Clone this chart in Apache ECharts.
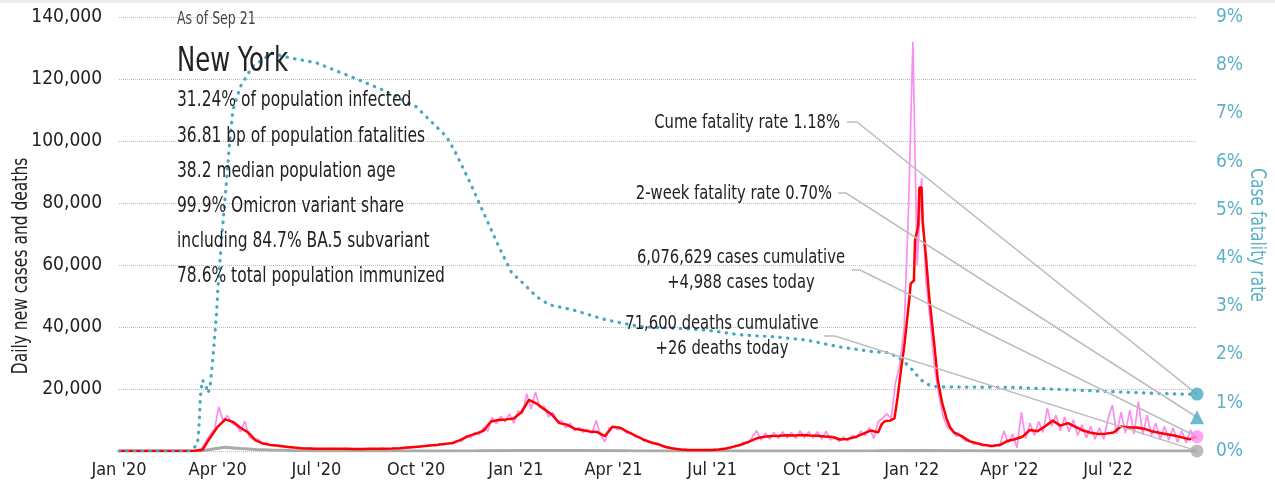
<!DOCTYPE html>
<html>
<head>
<meta charset="utf-8">
<script src="https://cdn.jsdelivr.net/npm/echarts@6/dist/echarts.min.js"></script>
<style>
  html, body { margin: 0; padding: 0; background: #fff; }
  #chart { width: 1275px; height: 491px; }
</style>
</head>
<body>
<div id="chart"></div>
<script>
// all day offsets count from 2020-01-01, case/death values are in thousands
const dailyStep = 4;
const dailyCases = [
  0, 0, 0, 0, 0, 0, 0, 0, 0, 0, 0, 0, 0, 0, 0, 0, 0, 0, 0.1, 0.8,
  3.0, 5.2, 7.0, 14.2, 9.8, 11.4, 9.0, 8.4, 6.2, 9.6, 4.6, 3.6, 3.9, 2.2, 2.6, 1.8, 1.9, 1.5, 1.6, 1.2,
  1.3, 0.9, 1.0, 0.8, 0.9, 0.6, 0.8, 0.7, 0.6, 0.8, 0.7, 0.6, 0.8, 0.7, 0.5, 0.7, 0.6, 0.7, 0.8, 0.6,
  0.7, 0.9, 0.6, 0.8, 0.9, 0.8, 1.2, 1.0, 1.4, 1.3, 1.7, 1.5, 2.0, 1.7, 2.3, 2.0, 2.6, 2.4, 3.4, 3.0,
  4.9, 4.2, 6.0, 5.2, 7.5, 6.4, 10.8, 8.8, 11.2, 9.4, 12.0, 9.0, 13.0, 12.0, 18.5, 13.5, 19.0, 14.0, 14.5, 11.0,
  12.5, 9.5, 9.8, 7.5, 9.0, 6.5, 7.6, 6.0, 7.0, 5.6, 9.8, 5.2, 3.0, 7.5, 8.0, 6.8, 7.6, 5.8, 6.0, 4.5,
  4.5, 3.2, 3.4, 2.4, 2.5, 1.7, 1.4, 0.9, 0.9, 0.5, 0.5, 0.35, 0.35, 0.25, 0.3, 0.25, 0.35, 0.4, 0.5, 0.6,
  0.9, 1.0, 1.8, 1.6, 2.9, 2.5, 4.5, 6.5, 3.5, 5.8, 3.8, 6.0, 4.0, 6.2, 4.2, 6.0, 4.0, 6.5, 4.3, 6.2,
  4.2, 6.2, 3.8, 6.4, 3.5, 4.4, 3.0, 4.6, 3.2, 5.0, 4.2, 6.4, 5.0, 7.6, 4.0, 9.5, 10.5, 12.0, 10.5, 22.0,
  28, 40, 78, 132, 60, 88, 55, 42, 27, 18, 11, 7.5, 6.5, 4.8, 5.0, 3.2, 3.4, 2.3, 2.6, 1.6,
  2.1, 1.4, 2.0, 1.6, 6.5, 2.5, 5.5, 1.0, 12.5, 4.0, 9.0, 5.0, 9.5, 6.0, 13.8, 8.0, 11.5, 6.5, 11.0, 6.2,
  10.0, 5.0, 8.5, 4.2, 8.0, 3.8, 7.5, 3.8, 10.5, 14.8, 5.5, 12.5, 5.8, 13.2, 5.5, 15.9, 5.2, 11.6, 4.8, 9.0,
  3.8, 8.0, 3.5, 7.5, 2.8, 6.5, 2.6, 6.8, 4.2
];

const avgDays = [
  0, 7, 14, 21, 28, 35, 42, 49, 56, 63, 70, 77, 84, 91, 98, 105, 112, 119, 126, 133,
  140, 147, 154, 161, 168, 175, 182, 189, 196, 203, 210, 217, 224, 231, 238, 245, 252, 259, 266, 273,
  280, 287, 294, 301, 308, 315, 322, 329, 336, 343, 350, 357, 364, 371, 378, 385, 392, 399, 406, 413,
  420, 427, 434, 441, 448, 455, 462, 469, 476, 483, 490, 497, 504, 511, 518, 525, 532, 539, 546, 553,
  560, 567, 574, 581, 588, 595, 602, 609, 616, 623, 630, 637, 644, 651, 658, 665, 672, 679, 686, 693,
  700, 703, 706, 711, 715, 718, 721, 724, 729, 730, 733, 734, 736, 737, 738, 740, 741, 744, 747, 752,
  755, 759, 763, 766, 770, 777, 784, 791, 798, 805, 812, 819, 826, 833, 840, 847, 854, 861, 868, 875,
  882, 889, 896, 903, 910, 917, 924, 931, 938, 945, 952, 959, 966, 973, 980, 987, 994
];
const avgCases = [
  0, 0, 0, 0, 0, 0, 0, 0, 0, 0, 0.05, 0.4, 4.3, 7.8, 10.2, 9.4, 7.5, 6.0, 3.4, 2.4,
  1.9, 1.7, 1.4, 1.1, 0.9, 0.8, 0.7, 0.7, 0.7, 0.7, 0.7, 0.65, 0.65, 0.7, 0.7, 0.75, 0.8, 0.9, 1.1, 1.3,
  1.5, 1.8, 2.0, 2.3, 2.6, 3.6, 4.8, 5.6, 6.5, 9.5, 10.0, 10.2, 10.5, 12.5, 16.5, 15.3, 13.5, 11.8, 9.0, 8.5,
  7.2, 6.8, 6.3, 6.1, 4.8, 7.8, 7.5, 6.2, 5.0, 3.8, 2.8, 2.2, 1.3, 0.8, 0.5, 0.35, 0.3, 0.3, 0.3, 0.5,
  0.8, 1.4, 2.1, 3.0, 4.1, 4.6, 4.8, 4.9, 5.1, 5.0, 5.2, 5.0, 4.9, 4.7, 4.5, 3.7, 3.9, 4.5, 5.5, 6.6,
  6.0, 8.5, 9.6, 9.8, 10.5, 17.5, 26, 33.6, 50, 54, 55, 68, 71, 73, 85, 85, 74, 63, 50, 33.6,
  22.9, 15.5, 10.5, 7.8, 6.0, 4.8, 3.2, 2.5, 1.9, 1.6, 1.9, 3.2, 3.8, 4.6, 6.8, 6.4, 8.0, 9.8, 8.2, 9.0,
  7.8, 6.6, 5.9, 5.5, 5.6, 6.0, 7.9, 7.6, 7.6, 7.2, 6.4, 5.9, 5.4, 5.0, 4.4, 3.8, 4.6
];

const deathDays = [0, 75, 84, 91, 98, 105, 112, 126, 140, 160, 190, 280, 330, 380, 420, 470, 520, 580, 700, 740, 770, 820, 994];
const deathVals = [0, 0, 0.5, 0.9, 1.2, 1.0, 0.8, 0.5, 0.3, 0.15, 0.05, 0.03, 0.08, 0.2, 0.15, 0.08, 0.03, 0.04, 0.05, 0.2, 0.12, 0.03, 0.03];

// cumulative case fatality rate, %
const cfrDays = [
  0, 65, 72, 73, 74, 75, 77, 80, 82, 84, 87, 90, 91, 95, 99, 102, 105, 112, 123, 141,
  158, 182, 213, 243, 274, 302, 310, 323, 337, 351, 362, 374, 385, 397, 418, 449, 480, 510, 541, 572,
  603, 634, 664, 695, 710, 722, 730, 738, 743, 749, 755, 824, 916, 977, 994
];
const cfrVals = [
  0, 0, 0.12, 0.27, 0.6, 1.13, 1.47, 1.37, 1.2, 1.33, 2.03, 2.86, 3.3, 4.5, 5.56, 6.39, 7.07, 7.56, 7.97, 8.25,
  8.15, 8.05, 7.77, 7.49, 7.14, 6.52, 6.2, 5.6, 4.9, 4.2, 3.7, 3.45, 3.2, 3.03, 2.93, 2.72, 2.58, 2.55, 2.51, 2.41,
  2.37, 2.3, 2.16, 2.06, 2.04, 1.89, 1.72, 1.51, 1.41, 1.35, 1.33, 1.32, 1.23, 1.18, 1.18
];
const twoWeekRate = 0.70;
const lastDay = 994;

// quarter starts as day offsets: Jan '20 ... Jul '22
const quarterDays = [0, 91, 182, 274, 366, 456, 547, 639, 731, 821, 912];
const monthNames = ['Jan', 'Feb', 'Mar', 'Apr', 'May', 'Jun', 'Jul', 'Aug', 'Sep', 'Oct', 'Nov', 'Dec'];

const infoTitle = 'New York';
const infoDate = 'As of Sep 21';
const infoLines = [
  '31.24% of population infected',
  '36.81 bp of population fatalities',
  '38.2 median population age',
  '99.9% Omicron variant share',
  'including 84.7% BA.5 subvariant',
  '78.6% total population immunized'
];
const noteCume = 'Cume fatality rate 1.18%';
const noteTwoWeek = '2-week fatality rate 0.70%';
const noteCases = '6,076,629 cases cumulative\n+4,988 cases today';
const noteDeaths = '71,600 deaths cumulative\n+26 deaths today';

const FONT = "'Liberation Sans Narrow', 'Arial Narrow', 'DejaVu Sans Condensed', sans-serif";
const NARROW = 0.82; // squeeze the condensed fallback toward the original narrow face
const TEAL = '#48a8c2';
const PINK = '#fb8cf0';
const RED = '#ff0000';
const GRAY = '#aaaaaa';

function pairs(days, vals, k) {
  return days.map((d, i) => [d, vals[i] * k]);
}

const lastAvg = avgCases[avgCases.length - 1] * 1000;
const lastDeath = deathVals[deathVals.length - 1] * 1000;
const lastCfr = cfrVals[cfrVals.length - 1];

const chart = echarts.init(document.getElementById('chart'));

chart.setOption({
  animation: false,
  backgroundColor: '#fff',
  grid: { left: 119, right: 78, top: 17, bottom: 40 },
  xAxis: {
    type: 'value',
    min: 0,
    max: lastDay,
    axisLine: { show: false },
    axisTick: { show: false },
    splitLine: { show: false },
    axisLabel: {
      customValues: quarterDays,
      formatter: function (v) {
        let d = new Date(2020, 0, 1 + v);
        return monthNames[d.getMonth()] + " '" + String(d.getFullYear()).slice(2);
      },
      color: '#222',
      fontFamily: FONT,
      fontSize: 18,
      margin: 10
    }
  },
  yAxis: [{
    type: 'value',
    min: 0,
    max: 140000,
    interval: 20000,
    axisLine: { show: false },
    axisTick: { show: false },
    axisLabel: {
      formatter: v => v === 0 ? '' : v.toLocaleString('en-US'),
      color: '#222',
      fontFamily: FONT,
      fontSize: 19,
      margin: 17
    },
    splitLine: { lineStyle: { type: 'dotted', color: '#bbb', width: 1 } }
  }, {
    type: 'value',
    min: 0,
    max: 9,
    interval: 1,
    position: 'right',
    axisLine: { show: false },
    axisTick: { show: false },
    axisLabel: {
      formatter: '{value}%',
      color: '#5cb0c8',
      fontFamily: FONT,
      fontSize: 19,
      margin: 19
    },
    splitLine: { show: false }
  }],
  series: [{
    name: 'Daily cases',
    type: 'line',
    data: dailyCases.map((v, i) => [i * dailyStep, v * 1000]),
    showSymbol: false,
    lineStyle: { color: PINK, width: 1.7 },
    z: 2
  }, {
    name: 'Daily deaths',
    type: 'line',
    data: pairs(deathDays, deathVals, 1000),
    showSymbol: false,
    lineStyle: { color: GRAY, width: 3 },
    z: 3
  }, {
    name: '7-day average',
    type: 'line',
    data: pairs(avgDays, avgCases, 1000),
    showSymbol: false,
    lineStyle: { color: RED, width: 2.5 },
    z: 4
  }, {
    name: 'Case fatality rate',
    type: 'line',
    yAxisIndex: 1,
    data: pairs(cfrDays, cfrVals, 1),
    showSymbol: false,
    lineStyle: { color: TEAL, width: 3.2, type: [0.5, 7.2], cap: 'round' },
    z: 5
  }, {
    type: 'scatter',
    yAxisIndex: 1,
    symbolSize: 13,
    z: 20,
    data: [
      { value: [lastDay, lastCfr], symbol: 'circle', itemStyle: { color: TEAL } },
      { value: [lastDay, twoWeekRate], symbol: 'triangle', symbolSize: 14, itemStyle: { color: TEAL } }
    ]
  }, {
    type: 'scatter',
    symbolSize: 13,
    z: 20,
    data: [
      { value: [lastDay, lastAvg], itemStyle: { color: PINK } },
      { value: [lastDay, lastDeath], itemStyle: { color: GRAY } }
    ]
  }]
});

// leader lines from the notes to the end markers
let pCfr = chart.convertToPixel({ xAxisIndex: 0, yAxisIndex: 1 }, [lastDay, lastCfr]);
let pTwo = chart.convertToPixel({ xAxisIndex: 0, yAxisIndex: 1 }, [lastDay, twoWeekRate]);
let pAvg = chart.convertToPixel({ xAxisIndex: 0, yAxisIndex: 0 }, [lastDay, lastAvg]);
let pDeath = chart.convertToPixel({ xAxisIndex: 0, yAxisIndex: 0 }, [lastDay, lastDeath]);

function leader(x1, x2, y, p) {
  return {
    type: 'polyline',
    z: 10,
    shape: { points: [[x1, y], [x2, y], p] },
    style: { stroke: '#bdbdbd', lineWidth: 1.5, fill: null }
  };
}
function label(text, x, y, size, align, color, rot) {
  return {
    type: 'text',
    z: 12,
    x: x,
    y: y,
    rotation: rot || 0,
    scaleX: NARROW,
    style: {
      text: text,
      fill: color || '#222',
      font: size + 'px ' + FONT,
      align: align || 'left',
      verticalAlign: 'middle',
      lineHeight: 25
    }
  };
}

let graphics = [
  { type: 'rect', shape: { x: 0, y: 0, width: 1275, height: 3 }, style: { fill: '#eeeeee' } },
  label(infoDate, 177, 20, 17, 'left', '#444'),
  label(infoTitle, 177, 62, 33),
  label('Daily new cases and deaths', 22, 266, 21, 'center', '#222', Math.PI / 2),
  label('Case fatality rate', 1256, 235, 21, 'center', '#5cb0c8', -Math.PI / 2),
  leader(847, 857, 122, pCfr),
  leader(838, 846, 193, pTwo),
  leader(852, 860, 270, pAvg),
  leader(824, 835, 336, pDeath),
  label(noteCume, 840, 123, 20, 'right'),
  label(noteTwoWeek, 832, 194, 20, 'right'),
  label(noteCases, 741, 270, 20, 'center'),
  label(noteDeaths, 722, 336, 20, 'center')
];
infoLines.forEach((s, i) => {
  graphics.push(label(s, 177, 101 + i * 35.2, 21));
});

chart.setOption({ graphic: graphics });
</script>
</body>
</html>
